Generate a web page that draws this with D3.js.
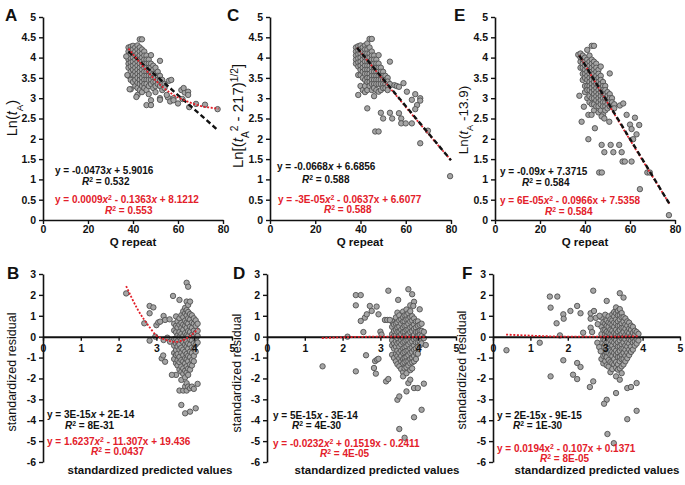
<!DOCTYPE html>
<html><head><meta charset="utf-8">
<script src="https://cdn.jsdelivr.net/npm/d3@7"></script>
<style>body{margin:0;background:#fff} svg{display:block} text{font-family:"Liberation Sans",Arial,sans-serif}</style>
</head><body><svg id="c" width="685" height="485"></svg>
<script>
// ---------- DATA ----------
const topXTicks = [0, 20, 40, 60, 80];
const topYTicks = [0, 0.5, 1, 1.5, 2, 2.5, 3, 3.5, 4, 4.5, 5];
const botXTicks = [0, 1, 2, 3, 4, 5];
const botYTicks = [3, 2, 1, 0, -1, -2, -3, -4, -5, -6];

// Panel A: Ln(tA) vs Q repeat (dense cluster by Q column + scattered points)
const colsA = [
  [38, [4.25, 4.15, 4.05, 3.95, 3.85, 3.75, 3.55]],
  [39, [4.27, 4.18, 4.08, 3.98, 3.88, 3.78, 3.65, 3.45, 3.22]],
  [40, [4.29, 4.2, 4.1, 4.0, 3.9, 3.8, 3.7, 3.58, 3.4]],
  [41, [4.25, 4.15, 4.05, 3.95, 3.85, 3.75, 3.65, 3.55, 3.45, 3.3]],
  [42, [4.3, 4.2, 4.1, 4.0, 3.9, 3.8, 3.7, 3.6, 3.5, 3.38, 3.25, 3.08]],
  [43, [4.45, 4.25, 4.15, 4.05, 3.95, 3.85, 3.75, 3.65, 3.55, 3.45, 3.35, 3.2]],
  [44, [4.45, 4.2, 4.1, 4.0, 3.9, 3.8, 3.7, 3.6, 3.5, 3.4, 3.3, 3.15]],
  [45, [4.15, 4.05, 3.95, 3.85, 3.75, 3.65, 3.55, 3.45, 3.35, 3.25]],
  [46, [4.05, 3.95, 3.85, 3.75, 3.65, 3.55, 3.45, 3.35, 3.2, 2.83]],
  [47, [3.95, 3.85, 3.75, 3.65, 3.55, 3.45, 3.3, 3.1]],
  [48, [4.06, 3.85, 3.75, 3.65, 3.55, 3.45, 3.35, 2.95, 2.83]],
  [49, [3.8, 3.7, 3.6, 3.5, 3.4, 3.25]],
  [50, [3.75, 3.6, 3.5, 3.4, 3.3, 3.15]],
  [51, [3.65, 3.55, 3.45, 3.35]],
  [52, [3.92, 3.55, 3.45, 3.3, 3.0, 2.96]],
  [53, [3.45, 3.35, 3.2]],
  [54, [3.35, 3.25]]
];
const outA = [[37, 4.03], [37.5, 3.57], [38.5, 3.22], [41.5, 3.03], [55.5, 3.02], [56, 3.43], [57, 3.45],
  [55, 3.08], [56.5, 2.92], [58, 3.0], [58, 2.95], [60, 2.87], [61.5, 3.2], [63, 3.14], [62, 2.98],
  [62.5, 3.25], [64.5, 3.16], [64.5, 3.08], [65, 2.78], [68, 2.86], [72, 2.84], [77.6, 2.73]];
const blackA = [[38, 4.15], [78, 2.2]];
const redA = [[38, 4.22], [42, 3.95], [46, 3.68], [50, 3.44], [54, 3.24], [58, 3.08], [62, 2.97], [66, 2.88], [70, 2.81], [74, 2.77], [78, 2.74]];

// Panel C: Ln[(tA^2-217)^1/2] vs Q repeat
const colsC = [
  [38, [4.25, 4.15, 4.05, 3.95, 3.85]],
  [39, [4.28, 4.18, 4.08, 3.98, 3.88, 3.78, 3.57, 3.08]],
  [40, [4.3, 4.2, 4.1, 4.0, 3.9, 3.8, 3.7, 3.57, 3.3]],
  [41, [4.25, 4.15, 4.05, 3.95, 3.85, 3.75, 3.65, 3.5, 3.2]],
  [42, [4.3, 4.2, 4.1, 4.0, 3.9, 3.8, 3.7, 3.6, 3.45, 3.3, 3.15]],
  [43, [4.35, 4.2, 4.1, 4.0, 3.9, 3.8, 3.7, 3.6, 3.5, 3.4, 3.2, 2.75]],
  [44, [4.46, 4.25, 4.1, 4.0, 3.9, 3.8, 3.7, 3.6, 3.5, 3.4, 3.3]],
  [45, [4.46, 4.15, 4.05, 3.95, 3.85, 3.75, 3.65, 3.55, 3.45, 3.35, 3.2]],
  [46, [4.05, 3.95, 3.85, 3.75, 3.65, 3.55, 3.45, 3.35, 3.25, 3.05]],
  [47, [3.95, 3.85, 3.75, 3.65, 3.55, 3.45, 3.35, 3.2]],
  [48, [4.06, 3.85, 3.75, 3.65, 3.55, 3.45, 3.35, 3.16]],
  [49, [3.75, 3.65, 3.55, 3.45, 3.35, 3.2, 2.64]],
  [50, [3.65, 3.55, 3.45, 3.35, 3.25, 2.5]],
  [51, [3.55, 3.45, 3.35, 3.25]],
  [52, [3.5, 3.41, 3.3, 3.2]],
  [53, [3.9, 3.35]]
];
const outC = [[46.5, 2.18], [48, 2.18], [53, 2.64], [54, 2.5], [55, 3.32], [56, 3.3], [57, 2.63], [57, 3.28],
  [58, 2.5], [58, 2.38], [59, 3.37], [60, 2.38], [60.5, 3.16], [62.7, 2.96], [62.7, 2.38], [64.2, 3.1],
  [66.4, 3.0], [66.4, 2.94], [65, 2.83], [64.2, 2.73], [66.4, 1.89], [69.8, 2.2], [79.6, 1.08]];
const blackC = [[38.5, 4.24], [80, 1.47]];
const redC = [[38.5, 4.24], [59, 2.85], [80, 1.47]];

// Panel E: Ln(tA - 13.9) vs Q repeat
const colsE = [
  [37, [4.07]],
  [38, [4.1, 4.0, 3.9, 3.75]],
  [39, [4.05, 3.95, 3.85, 3.75, 3.6, 3.45]],
  [40, [4.0, 3.9, 3.8, 3.7, 3.6, 3.5, 3.3, 3.15]],
  [41, [4.19, 3.95, 3.85, 3.75, 3.65, 3.55, 3.45, 3.3, 3.2, 3.0]],
  [42, [4.05, 3.9, 3.8, 3.7, 3.6, 3.5, 3.4, 3.3, 3.2, 3.05, 2.9]],
  [43, [4.29, 3.95, 3.85, 3.75, 3.65, 3.55, 3.45, 3.35, 3.25, 3.15, 3.0, 2.85]],
  [44, [4.29, 3.9, 3.8, 3.7, 3.6, 3.5, 3.4, 3.3, 3.2, 3.1, 3.0, 2.85, 2.7]],
  [45, [3.85, 3.75, 3.65, 3.55, 3.45, 3.35, 3.25, 3.15, 3.05, 2.95, 2.8]],
  [46, [3.7, 3.6, 3.5, 3.4, 3.3, 3.2, 3.1, 3.0, 2.9, 2.8, 2.65]],
  [47, [3.78, 3.55, 3.45, 3.35, 3.25, 3.15, 3.05, 2.95, 2.85, 2.7]],
  [48, [3.4, 3.3, 3.2, 3.1, 3.0, 2.9, 2.8, 2.6]],
  [49, [3.3, 3.2, 3.1, 3.0, 2.9, 2.8, 2.7]],
  [50, [3.15, 3.05, 2.95, 2.85, 2.75]],
  [51, [3.61, 3.1, 3.0, 2.9, 2.8]],
  [52, [3.0, 2.9, 2.8]],
  [53, [2.85, 2.75]]
];
const outE = [[37.5, 3.06], [39.5, 2.79], [38.5, 2.42], [41.5, 2.59], [42.9, 2.59], [44.4, 2.26], [47.4, 2.55],
  [48.6, 2.5], [50.8, 2.42], [55.5, 2.82], [57, 2.87], [58.5, 2.59], [62.2, 2.52], [60, 2.35], [60.7, 2.24],
  [64.1, 2.34], [62.9, 2.11], [61.4, 1.99], [41.5, 1.99], [47.4, 1.85], [51.4, 1.85], [55.2, 1.85],
  [48.6, 1.67], [52.6, 1.67], [56.3, 1.67], [56.7, 1.44], [57.7, 1.44], [60.7, 1.44], [46.3, 1.17],
  [47.5, 1.17], [67.7, 1.17], [68.8, 1.17], [64.4, 0.76], [77.3, 0.12]];
const blackE = [[37.5, 4.05], [77.5, 0.4]];
const redE = [[37.5, 4.05], [57.5, 2.2], [77.5, 0.4]];

// Bottom panels: x = standardized predicted value, y = standardized residual
const colsB = [
  [3.47, [0.62, 0.3, -0.12, -0.43, -0.78, -1.07]],
  [3.52, [0.97, 0.52, 0.21, -0.08, -0.33, -0.64, -0.88, -1.27, -1.83]],
  [3.56, [0.73, 0.44, 0.06, -0.22, -0.47, -0.83, -1.13, -1.38]],
  [3.61, [1.76, 0.88, 0.57, 0.22, -0.02, -0.37, -0.62, -0.97, -1.22, -1.57, -2.58]],
  [3.66, [1.03, 0.66, 0.42, 0.13, -0.18, -0.53, -0.77, -1.12, -1.43, -1.68, -2.07, -3.27]],
  [3.71, [1.22, 0.93, 0.58, 0.33, 0.03, -0.27, -0.62, -0.88, -1.18, -1.52, -1.78, -2.58]],
  [3.76, [1.38, 1.12, 0.77, 0.52, 0.17, -0.12, -0.38, -0.72, -1.03, -1.28, -1.63, -1.95, -2.39, -3.67]],
  [3.8, [2.58, 1.68, 1.27, 1.02, 0.68, 0.42, 0.08, -0.23, -0.48, -0.83, -1.08, -1.42, -1.72, -2.23, -2.58]],
  [3.84, [2.39, 1.52, 1.18, 0.88, 0.62, 0.27, 0.02, -0.32, -0.58, -0.92, -1.18, -1.53, -1.83, -2.39]],
  [3.89, [1.68, 1.08, 0.82, 0.48, 0.22, -0.13, -0.38, -0.72, -0.98, -1.33, -1.58, -2.47, -3.59]],
  [3.94, [1.02, 0.68, 0.42, 0.08, -0.18, -0.52, -0.78, -1.12, -1.38, -2.39]],
  [3.99, [0.88, 0.62, 0.28, 0.02, -0.32, -0.58, -0.92, -1.18, -2.5]],
  [4.04, [0.78, 0.52, 0.18, -0.12, -0.38, -0.72, -3.43]],
  [4.09, [0.62, 0.28, 0.03, -0.28, -2.26]]
];
const outB = [[2.2, 2.07], [2.68, 0.64], [2.82, 1.47], [2.92, 1.4], [2.82, 1.12], [2.82, -0.19], [2.97, 0.0],
  [3.0, 0.55], [3.05, 0.68], [3.1, 0.72], [3.19, 0.99], [3.23, 0.8], [3.19, -0.16], [3.29, -0.05],
  [3.36, -0.24], [3.14, -1.04], [3.23, -1.2], [3.18, -0.9], [3.35, 0.83], [3.44, 1.95], [3.41, -1.83]];
const redB = [[2.2, 2.42], [2.5, 1.32], [2.8, 0.5], [3.0, 0.05], [3.2, -0.12], [3.5, -0.25], [3.7, -0.17], [3.9, 0.04], [4.1, 0.37]];

const colsD = [
  [3.31, [0.73, 0.47, 0.12, -0.17, -0.42, -0.87]],
  [3.36, [0.58, 0.27, 0.03, -0.32, -0.57, -1.02]],
  [3.41, [0.92, 0.62, 0.33, 0.07, -0.22, -0.48, -0.83, -1.18]],
  [3.45, [1.15, 0.68, 0.43, 0.22, -0.07, -0.33, -0.67, -0.93, -1.32, -3.02]],
  [3.5, [1.02, 0.77, 0.48, 0.23, 0.02, -0.27, -0.48, -0.77, -1.03, -1.42, -2.86, -4.42]],
  [3.55, [0.83, 0.62, 0.33, 0.12, -0.17, -0.38, -0.67, -0.92, -1.18, -1.55]],
  [3.6, [1.2, 0.93, 0.72, 0.43, 0.22, -0.07, -0.28, -0.57, -0.78, -1.07, -1.28, -1.7, -1.9]],
  [3.64, [1.02, 0.73, 0.52, 0.23, 0.02, -0.23, -0.52, -0.73, -1.02, -1.23, -1.52, -4.84]],
  [3.69, [1.3, 1.03, 0.82, 0.53, 0.32, 0.03, -0.18, -0.47, -0.68, -0.97, -1.18, -1.47, -1.75, -2.62]],
  [3.74, [2.27, 1.12, 0.83, 0.62, 0.33, 0.12, -0.17, -0.38, -0.67, -0.88, -1.17, -1.38, -2.22]],
  [3.79, [1.5, 1.22, 0.93, 0.72, 0.43, 0.22, -0.07, -0.28, -0.57, -0.78, -1.07, -1.28, -1.6, -2.06]],
  [3.84, [2.03, 0.98, 0.77, 0.48, 0.27, -0.02, -0.23, -0.52, -0.73, -1.02, -1.23, -1.52]],
  [3.89, [1.67, 0.87, 0.58, 0.37, 0.08, -0.13, -0.42, -0.63, -0.92, -1.18, -2.46, -3.86]],
  [3.94, [0.72, 0.43, 0.22, -0.07, -0.28, -0.57, -0.78, -1.07]],
  [3.99, [0.73, 0.52, 0.23, 0.02, -0.27, -0.48, -0.82, -2.46]],
  [4.04, [1.31, 0.57, 0.28, 0.07, -0.22, -0.43]],
  [4.09, [0.62, 0.28, 0.02, -0.32, -3.5]],
  [4.15, [0.23, -0.07, -2.25]],
  [4.2, [-0.4]]
];
const outD = [[1.47, -1.42], [2.13, 0.0], [2.35, 1.99], [2.48, 1.99], [2.35, 1.5], [2.35, -1.66], [2.48, 0.75],
  [2.59, 0.91], [2.64, 1.07], [2.77, 1.23], [2.9, 1.44], [2.95, 1.07], [2.72, 1.47], [2.55, 0.22],
  [2.62, -0.89], [2.86, -1.17], [2.91, -1.1], [2.95, -1.06], [2.83, -1.5], [2.88, -1.77], [3.0, 0.24],
  [3.03, 0.1], [3.12, 0.8], [3.18, 0.8], [3.25, 0.8], [3.21, 2.2], [3.15, -2.14], [3.21, -2.03],
  [3.47, 1.76], [3.87, 1.47]];
const redD = [[1.45, -0.07], [2.0, -0.03], [3.0, 0.0], [4.2, -0.01]];

const colsF = [
  [2.9, [0.92, 0.48, 0.12, -0.32, -0.68, -1.07]],
  [2.95, [0.68, 0.32, -0.12, -0.48, -0.92, -1.28]],
  [3.0, [1.05, 0.62, 0.33, 0.12, -0.17, -0.38, -0.67, -0.88, -1.17]],
  [3.04, [1.71, 0.78, 0.52, 0.23, 0.02, -0.27, -0.48, -0.77, -0.98, -1.37, -3.02]],
  [3.09, [0.97, 0.68, 0.47, 0.18, -0.07, -0.28, -0.57, -0.78, -1.12, -1.43]],
  [3.14, [0.83, 0.62, 0.33, 0.12, -0.17, -0.38, -0.67, -0.88, -1.22, -1.7]],
  [3.19, [1.07, 0.78, 0.57, 0.28, 0.07, -0.22, -0.43, -0.72, -0.93, -1.27, -1.55]],
  [3.24, [1.18, 0.97, 0.68, 0.47, 0.18, -0.07, -0.28, -0.57, -0.78, -1.07, -1.33]],
  [3.29, [1.4, 1.12, 0.83, 0.62, 0.33, 0.12, -0.17, -0.38, -0.67, -0.88, -1.22, -1.48, -1.9, -2.7]],
  [3.34, [1.23, 1.02, 0.73, 0.52, 0.23, 0.02, -0.27, -0.48, -0.77, -0.98, -1.32, -1.58]],
  [3.39, [2.08, 1.32, 1.03, 0.82, 0.53, 0.32, 0.03, -0.18, -0.47, -0.68, -0.97, -1.18, -1.52, -2.06]],
  [3.44, [1.13, 0.92, 0.63, 0.42, 0.13, -0.08, -0.37, -0.58, -0.87, -1.08, -1.42, -1.75]],
  [3.49, [1.87, 0.93, 0.72, 0.43, 0.22, -0.07, -0.28, -0.57, -0.78, -1.07, -1.33]],
  [3.54, [0.87, 0.58, 0.37, 0.08, -0.13, -0.42, -0.63, -0.92, -1.18]],
  [3.59, [0.73, 0.52, 0.23, 0.02, -0.27, -0.48, -0.77, -1.03, -2.46, -3.95]],
  [3.64, [0.67, 0.38, 0.17, -0.12, -0.33, -0.62, -0.88]],
  [3.69, [0.53, 0.32, 0.03, -0.18, -0.47, -0.73, -2.41]],
  [3.74, [0.47, 0.18, -0.07, -0.28, -0.62]],
  [3.79, [0.28, 0.07, -0.22, -0.43]],
  [3.84, [0.22, -0.12, -0.33, -2.22, -3.55]],
  [3.89, [0.13, -0.18]]
];
const outF = [[0.36, -0.65], [1.25, -0.29], [1.52, 1.92], [1.72, 1.92], [1.54, 1.39], [1.7, 0.64], [1.79, 0.06],
  [1.88, 1.07], [1.89, 0.86], [2.07, 1.23], [2.25, 1.47], [2.34, 1.12], [1.88, -1.13], [1.54, -1.9],
  [2.25, -1.26], [2.34, -1.45], [2.14, -1.82], [2.25, -2.03], [2.41, 0.19], [2.61, 0.86], [2.61, 1.12],
  [2.7, 1.23], [2.68, 2.2], [2.61, 0.43], [2.65, 0.22], [2.59, -2.41], [2.68, -2.14], [2.79, -0.29],
  [2.84, -0.5], [2.88, -0.7], [2.97, -3.21], [3.06, -4.66], [3.23, -5.1], [2.75, 0.9], [2.8, 0.6], [2.85, 1.0]];
const redF = [[0.35, 0.1], [1.0, 0.05], [2.0, 0.0], [3.0, 0.0], [3.9, 0.02]];

// ---------- DRAWING ----------
const expand = (cols, extra) => cols.flatMap(([x, ys]) => ys.map(y => [x, y])).concat(extra);
const RED = '#e3202a';
const INK = '#111';
const svg = d3.select('#c');

function rich(g, x, y, parts, o) {
  const t = g.append('text').attr('x', x).attr('y', y)
    .attr('font-size', o.size).attr('font-weight', o.weight || 'bold').attr('fill', o.fill || INK);
  if (o.anchor) t.attr('text-anchor', o.anchor);
  if (o.transform) t.attr('transform', o.transform);
  parts.forEach(p => {
    const [s, st] = typeof p === 'string' ? [p, ''] : p;
    const ts = t.append('tspan').text(s);
    if (st.includes('i')) ts.attr('font-style', 'italic');
    if (st.includes('^')) ts.attr('baseline-shift', 'super').attr('font-size', o.size * 0.68);
    if (st.includes('_')) ts.attr('baseline-shift', 'sub').attr('font-size', o.size * 0.68);
  });
  return t;
}

function styleAxis(sel) {
  sel.select('.domain').attr('stroke', INK).attr('stroke-width', 1.6);
  sel.selectAll('.tick line').attr('stroke', INK).attr('stroke-width', 1.4);
  sel.selectAll('.tick text').attr('fill', INK).attr('font-size', 10.5).attr('font-weight', 'bold')
    .attr('font-family', '"Liberation Sans",Arial,sans-serif');
}

function drawPoints(g, x, y, pts) {
  g.append('g').selectAll('circle').data(pts).join('circle')
    .attr('cx', d => x(d[0])).attr('cy', d => y(d[1])).attr('r', 2.7)
    .attr('fill', '#a5a5a5').attr('stroke', '#505050').attr('stroke-width', 0.9);
}

function drawLine(g, x, y, pts, kind) {
  const line = d3.line().x(d => x(d[0])).y(d => y(d[1])).curve(d3.curveMonotoneX);
  const p = g.append('path').attr('d', line(pts)).attr('fill', 'none');
  if (kind === 'black') p.attr('stroke', INK).attr('stroke-width', 2.4).attr('stroke-dasharray', '5,3');
  else p.attr('stroke', RED).attr('stroke-width', 1.8).attr('stroke-dasharray', '2,1.6');
}

const topPanels = [
  { letter: 'A', lx: 5, x0: 43, x1: 223, pts: expand(colsA, outA), black: blackA, red: redA, redFirst: false,
    ylab: { x: 17, y: 118, size: 14.5, parts: ['Ln(', ['t', 'i'], ['A', '_'], ')'] },
    eq: [{ x: 55, y: 174, parts: ['y = -0.0473', ['x', 'i'], ' + 5.9016'] },
         { x: 82, y: 185, parts: [['R', 'i'], ['2', '^'], ' = 0.532'] },
         { x: 55, y: 203, red: 1, parts: ['y = 0.0009', ['x', 'i'], ['2', '^'], ' - 0.1363', ['x', 'i'], ' + 8.1212'] },
         { x: 105, y: 214, red: 1, parts: [['R', 'i'], ['2', '^'], ' = 0.553'] }],
    qx: 133 },
  { letter: 'C', lx: 227, x0: 270, x1: 451, pts: expand(colsC, outC), black: blackC, red: redC, redFirst: true,
    ylab: { x: 243, y: 116, size: 15, parts: ['Ln[(', ['t', 'i'], ['A', '_'], ['2', '^'], ' - 217)', ['1/2', '^'], ']'] },
    eq: [{ x: 277, y: 170, parts: ['y = -0.0668', ['x', 'i'], ' + 6.6856'] },
         { x: 302, y: 183, parts: [['R', 'i'], ['2', '^'], ' = 0.588'] },
         { x: 278, y: 203, red: 1, parts: ['y = -3E-05', ['x', 'i'], ['2', '^'], ' - 0.0637x + 6.6077'] },
         { x: 324, y: 213, red: 1, parts: [['R', 'i'], ['2', '^'], ' = 0.588'] }],
    qx: 360 },
  { letter: 'E', lx: 454, x0: 495, x1: 675, pts: expand(colsE, outE), black: blackE, red: redE, redFirst: true,
    ylab: { x: 468, y: 120, size: 13.5, parts: ['Ln(', ['t', 'i'], ['A', '_'], ' -13.9)'] },
    eq: [{ x: 500, y: 175, parts: ['y = -0.09', ['x', 'i'], ' + 7.3715'] },
         { x: 522, y: 186, parts: [['R', 'i'], ['2', '^'], ' = 0.584'] },
         { x: 500, y: 204, red: 1, parts: ['y = 6E-05', ['x', 'i'], ['2', '^'], ' - 0.0966x + 7.5358'] },
         { x: 545, y: 215, red: 1, parts: [['R', 'i'], ['2', '^'], ' = 0.584'] }],
    qx: 585 }
];

topPanels.forEach(p => {
  const g = svg.append('g');
  const x = d3.scaleLinear().domain([0, 80]).range([p.x0, p.x1]);
  const y = d3.scaleLinear().domain([0, 5]).range([220, 17]);
  const ya = g.append('g').attr('transform', `translate(${p.x0},0)`)
    .call(d3.axisLeft(y).tickValues(topYTicks).tickSize(4).tickSizeOuter(0).tickPadding(3).tickFormat(d => String(d)));
  styleAxis(ya);
  const xa = g.append('g').attr('transform', 'translate(0,220)')
    .call(d3.axisBottom(x).tickValues(topXTicks).tickSize(4).tickSizeOuter(0).tickPadding(2).tickFormat(d => String(d)));
  styleAxis(xa);
  drawPoints(g, x, y, p.pts);
  if (p.redFirst) { drawLine(g, x, y, p.red, 'red'); drawLine(g, x, y, p.black, 'black'); }
  else { drawLine(g, x, y, p.black, 'black'); drawLine(g, x, y, p.red, 'red'); }
  rich(g, p.lx, 21, [p.letter], { size: 17 });
  rich(g, p.ylab.x, p.ylab.y, p.ylab.parts, { size: p.ylab.size, weight: 'normal', anchor: 'middle',
    transform: `rotate(-90,${p.ylab.x},${p.ylab.y})` });
  p.eq.forEach(e => rich(g, e.x, e.y, e.parts, { size: 10, fill: e.red ? RED : INK }));
  rich(g, p.qx, 246, ['Q repeat'], { size: 11.5, anchor: 'middle' });
});

const botPanels = [
  { letter: 'B', lx: 7, x0: 43, x1: 232, pts: expand(colsB, outB), red: redB, ylx: 16, yly: 372, xlab: 150,
    eq: [{ x: 47, y: 418, parts: ['y = 3E-15', ['x', 'i'], ' + 2E-14'] },
         { x: 65, y: 429, parts: [['R', 'i'], ['2', '^'], ' = 8E-31'] },
         { x: 47, y: 445, red: 1, parts: ['y = 1.6237', ['x', 'i'], ['2', '^'], ' - 11.307x + 19.436'] },
         { x: 91, y: 455, red: 1, parts: [['R', 'i'], ['2', '^'], ' = 0.0437'] }] },
  { letter: 'D', lx: 233, x0: 267, x1: 456, pts: expand(colsD, outD), red: redD, ylx: 241, yly: 373, xlab: 377,
    eq: [{ x: 273, y: 419, parts: ['y = 5E-15', ['x', 'i'], ' - 3E-14'] },
         { x: 292, y: 429, parts: [['R', 'i'], ['2', '^'], ' = 4E-30'] },
         { x: 273, y: 447, red: 1, parts: ['y = -0.0232', ['x', 'i'], ['2', '^'], ' + 0.1519x - 0.2411'] },
         { x: 320, y: 457, red: 1, parts: [['R', 'i'], ['2', '^'], ' = 4E-05'] }] },
  { letter: 'F', lx: 462, x0: 493, x1: 680, pts: expand(colsF, outF), red: redF, ylx: 466, yly: 370, xlab: 597,
    eq: [{ x: 497, y: 419, parts: ['y = 2E-15x - 9E-15'] },
         { x: 513, y: 429, parts: [['R', 'i'], ['2', '^'], ' = 1E-30'] },
         { x: 497, y: 452, red: 1, parts: ['y = 0.0194x', ['2', '^'], ' - 0.107x + 0.1371'] },
         { x: 540, y: 462, red: 1, parts: [['R', 'i'], ['2', '^'], ' = 8E-05'] }] }
];

botPanels.forEach(p => {
  const g = svg.append('g');
  const x = d3.scaleLinear().domain([0, 5]).range([p.x0, p.x1]);
  const y = d3.scaleLinear().domain([-6, 3]).range([462, 274]);
  const ya = g.append('g').attr('transform', `translate(${p.x0},0)`)
    .call(d3.axisLeft(y).tickValues(botYTicks).tickSize(4).tickSizeOuter(0).tickPadding(3).tickFormat(d => String(d)));
  styleAxis(ya);
  drawPoints(g, x, y, p.pts);
  const xa = g.append('g').attr('transform', `translate(0,${y(0)})`)
    .call(d3.axisBottom(x).tickValues(botXTicks).tickSize(4).tickSizeOuter(0).tickPadding(4).tickFormat(d => String(d)));
  styleAxis(xa);
  xa.select('.domain').attr('stroke-width', 2);
  drawLine(g, x, y, p.red, 'red');
  rich(g, p.lx, 279, [p.letter], { size: 17 });
  rich(g, p.ylx, p.yly, ['standardized residual'], { size: 12.5, weight: 'normal', anchor: 'middle',
    transform: `rotate(-90,${p.ylx},${p.yly})` });
  p.eq.forEach(e => rich(g, e.x, e.y, e.parts, { size: 10, fill: e.red ? RED : INK }));
  rich(g, p.xlab, 474, ['standardized predicted values'], { size: 11.5, anchor: 'middle' });
});
</script></body></html>
